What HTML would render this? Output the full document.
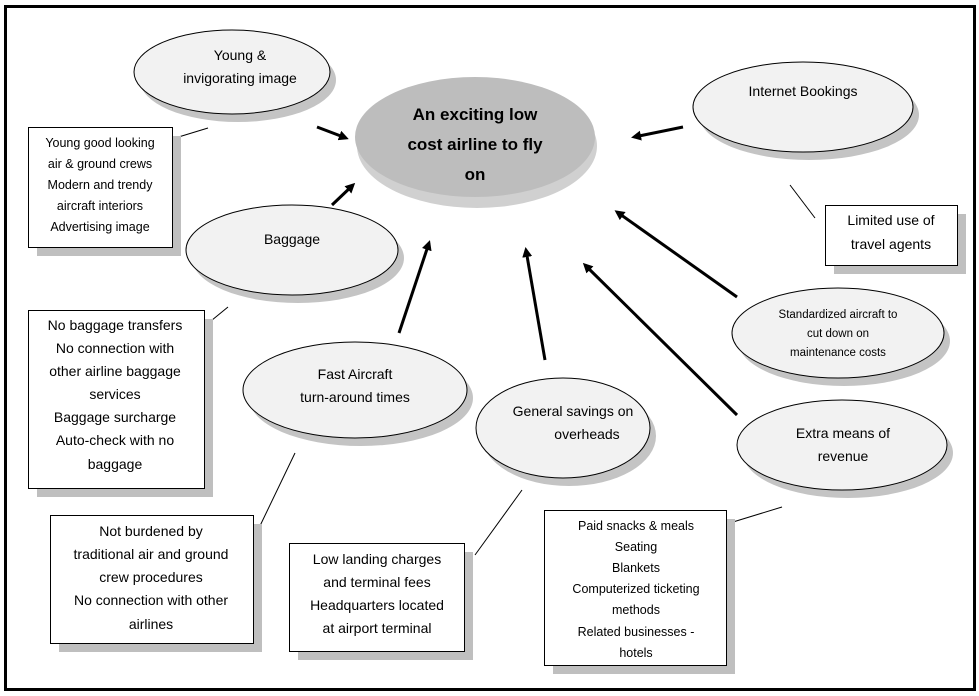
<!DOCTYPE html>
<html><head><meta charset="utf-8"><style>
body{margin:0;background:#fff}
svg{display:block}
text{font-family:"Liberation Sans",sans-serif;fill:#000}
</style></head><body>
<svg width="979" height="696" viewBox="0 0 979 696" xmlns="http://www.w3.org/2000/svg">
<defs>
<marker id="ah" markerWidth="10" markerHeight="10" refX="7" refY="5" orient="auto" markerUnits="userSpaceOnUse"><path d="M0,0 L10,5 L0,10 z" fill="#000"/></marker>
</defs>
<rect x="5.5" y="6.5" width="969" height="683" fill="#fff" stroke="#000" stroke-width="3"/>
<g stroke="#000" stroke-width="3" marker-end="url(#ah)">
<line x1="317" y1="127" x2="346" y2="138"/>
<line x1="332" y1="205" x2="353" y2="185"/>
<line x1="399" y1="333" x2="429" y2="243"/>
<line x1="545" y1="360" x2="526" y2="250"/>
<line x1="737" y1="297" x2="617" y2="212"/>
<line x1="737" y1="415" x2="585" y2="265"/>
<line x1="683" y1="127" x2="634" y2="137"/>
</g>
<g stroke="#000" stroke-width="1">
<line x1="172" y1="139" x2="208" y2="128"/>
<line x1="790" y1="185" x2="815" y2="218"/>
<line x1="206" y1="325" x2="228" y2="307"/>
<line x1="295" y1="453" x2="258" y2="530"/>
<line x1="522" y1="490" x2="475" y2="555"/>
<line x1="733" y1="522" x2="782" y2="507"/>
</g>
<ellipse cx="477" cy="146" rx="120" ry="62" fill="#d0d0d0"/>
<ellipse cx="475" cy="137" rx="120" ry="60" fill="#bdbdbd"/>
<text font-weight="bold" font-size="17" text-anchor="middle"><tspan x="475" y="120">An exciting low</tspan><tspan x="475" y="150">cost airline to fly</tspan><tspan x="475" y="180">on</tspan></text>
<g fill="#c4c4c4">
<ellipse cx="238" cy="80" rx="98" ry="42"/>
<ellipse cx="809" cy="115" rx="110" ry="45"/>
<ellipse cx="298" cy="258" rx="106" ry="45"/>
<ellipse cx="361" cy="398" rx="112" ry="48"/>
<ellipse cx="569" cy="436" rx="87" ry="50"/>
<ellipse cx="844" cy="341" rx="106" ry="45"/>
<ellipse cx="848" cy="453" rx="105" ry="45"/>
</g>
<g fill="#f2f2f2" stroke="#000" stroke-width="1">
<ellipse cx="232" cy="72" rx="98" ry="42"/>
<ellipse cx="803" cy="107" rx="110" ry="45"/>
<ellipse cx="292" cy="250" rx="106" ry="45"/>
<ellipse cx="355" cy="390" rx="112" ry="48"/>
<ellipse cx="563" cy="428" rx="87" ry="50"/>
<ellipse cx="838" cy="333" rx="106" ry="45"/>
<ellipse cx="842" cy="445" rx="105" ry="45"/>
</g>
<g font-size="14" text-anchor="middle">
<text><tspan x="240" y="60">Young &amp;</tspan><tspan x="240" y="83">invigorating image</tspan></text>
<text><tspan x="803" y="96">Internet Bookings</tspan></text>
<text><tspan x="292" y="244">Baggage</tspan></text>
<text><tspan x="355" y="379">Fast Aircraft</tspan><tspan x="355" y="402">turn-around times</tspan></text>
<text><tspan x="573" y="416">General savings on</tspan><tspan x="587" y="439">overheads</tspan></text>
<text><tspan x="843" y="438">Extra means of</tspan><tspan x="843" y="461">revenue</tspan></text>
</g>
<text font-size="11.5" text-anchor="middle"><tspan x="838" y="318">Standardized aircraft to</tspan><tspan x="838" y="337">cut down on</tspan><tspan x="838" y="356">maintenance costs</tspan></text>
<g fill="#bfbfbf">
<rect x="37" y="136" width="144" height="120"/>
<rect x="834" y="214" width="132" height="60"/>
<rect x="37" y="319" width="176" height="178"/>
<rect x="59" y="524" width="203" height="128"/>
<rect x="298" y="552" width="175" height="108"/>
<rect x="553" y="519" width="182" height="155"/>
</g>
<g fill="#fff" stroke="#000" stroke-width="1">
<rect x="28.5" y="127.5" width="144" height="120"/>
<rect x="825.5" y="205.5" width="132" height="60"/>
<rect x="28.5" y="310.5" width="176" height="178"/>
<rect x="50.5" y="515.5" width="203" height="128"/>
<rect x="289.5" y="543.5" width="175" height="108"/>
<rect x="544.5" y="510.5" width="182" height="155"/>
</g>
<text font-size="12.5" text-anchor="middle"><tspan x="100" y="147">Young good looking</tspan><tspan x="100" y="168">air &amp; ground crews</tspan><tspan x="100" y="189">Modern and trendy</tspan><tspan x="100" y="210">aircraft interiors</tspan><tspan x="100" y="231">Advertising image</tspan></text>
<text font-size="14" text-anchor="middle"><tspan x="891" y="225">Limited use of</tspan><tspan x="891" y="249">travel agents</tspan></text>
<text font-size="14" text-anchor="middle"><tspan x="115" y="330">No baggage transfers</tspan><tspan x="115" y="353">No connection with</tspan><tspan x="115" y="376">other airline baggage</tspan><tspan x="115" y="399">services</tspan><tspan x="115" y="422">Baggage surcharge</tspan><tspan x="115" y="445">Auto-check with no</tspan><tspan x="115" y="469">baggage</tspan></text>
<text font-size="14" text-anchor="middle"><tspan x="151" y="536">Not burdened by</tspan><tspan x="151" y="559">traditional air and ground</tspan><tspan x="151" y="582">crew procedures</tspan><tspan x="151" y="605">No connection with other</tspan><tspan x="151" y="629">airlines</tspan></text>
<text font-size="14" text-anchor="middle"><tspan x="377" y="564">Low landing charges</tspan><tspan x="377" y="587">and terminal fees</tspan><tspan x="377" y="610">Headquarters located</tspan><tspan x="377" y="633">at airport terminal</tspan></text>
<text font-size="12.5" text-anchor="middle"><tspan x="636" y="530">Paid snacks &amp; meals</tspan><tspan x="636" y="551">Seating</tspan><tspan x="636" y="572">Blankets</tspan><tspan x="636" y="593">Computerized ticketing</tspan><tspan x="636" y="614">methods</tspan><tspan x="636" y="636">Related businesses -</tspan><tspan x="636" y="657">hotels</tspan></text>
</svg>
</body></html>
